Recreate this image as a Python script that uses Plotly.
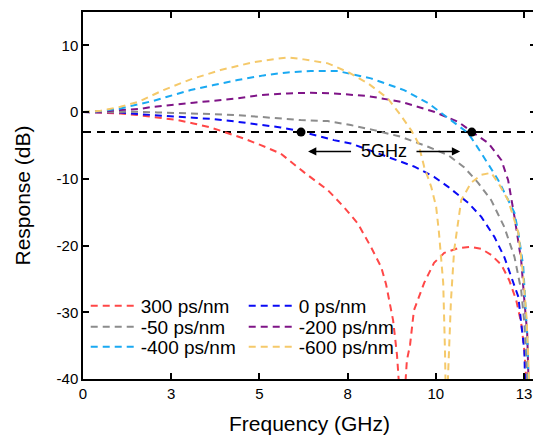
import plotly.graph_objects as go

# ---------------- data ----------------
x_tick_vals = [0, 2.5, 5, 7.5, 10, 12.5]
x_tick_text = ["0", "3", "5", "8", "10", "13"]
y_tick_vals = [-40, -30, -20, -10, 0, 10]
y_tick_text = ["-40", "-30", "-20", "-10", "0", "10"]

names = ["300 ps/nm", "0 ps/nm", "-50 ps/nm", "-200 ps/nm", "-400 ps/nm", "-600 ps/nm"]
colors = ["#FF4747", "#0A0AF5", "#8C8C8C", "#7F1487", "#1AA9F2", "#F5C96A"]

x_300 = [0, 1.06, 1.57, 2.11, 2.68, 3.13, 3.61, 3.99, 4.55, 5.04, 5.6, 6.26, 6.94, 7.39, 7.79,
         8.16, 8.45, 8.59, 8.79, 8.9, 8.95, 9.05, 9.14, 9.18, 9.27, 9.38, 9.67, 9.95, 10.24,
         10.63, 11.0, 11.29, 11.57, 11.86, 12.08, 12.28, 12.42, 12.51, 12.57]
y_300 = [0, -0.2, -0.45, -0.8, -1.2, -1.7, -2.3, -2.95, -3.95, -4.95, -6.2, -9.0, -11.7, -14.2, -16.7,
         -20.2, -23.2, -25.8, -31.2, -36.4, -40.5, -48, -40.5, -37.2, -34.9, -29.7, -25.6, -22.6, -21.1,
         -20.4, -20.2, -20.5, -21.4, -22.9, -25.2, -28.2, -31.6, -35.7, -40.5]

x_0 = [0, 1.06, 1.57, 2.11, 2.68, 3.13, 3.7, 4.38, 5.04, 5.6, 6.09, 6.54, 7.11, 7.59, 8.45,
       9.38, 9.95, 10.35, 10.92, 11.29, 11.66, 11.94, 12.14, 12.34, 12.42, 12.51, 12.53]
y_0 = [0, -0.05, -0.3, -0.45, -0.7, -0.85, -1.05, -1.45, -1.85, -2.3, -2.8, -3.45, -4.2, -4.7, -6.3,
       -8.15, -9.7, -11.2, -13.6, -15.7, -18.7, -21.7, -24.7, -27.7, -31.6, -35.7, -40.5]

x_m50 = [0, 1.06, 1.57, 2.11, 2.68, 3.13, 3.7, 4.38, 5.04, 5.6, 6.17, 6.94, 7.59, 8.25, 9.01,
         9.78, 10.35, 10.8, 11.2, 11.57, 11.94, 12.23, 12.42, 12.51, 12.57, 12.6]
y_m50 = [0, 0.05, 0.05, -0.05, -0.1, -0.2, -0.3, -0.45, -0.7, -0.95, -1.2, -1.35, -1.95, -2.7, -3.7,
         -5.2, -6.45, -8.25, -10.6, -13.2, -17.2, -21.7, -26.7, -31.6, -36.7, -40.5]

x_m200 = [0, 0.49, 1.06, 1.57, 2.0, 2.57, 3.13, 3.7, 4.38, 5.04, 5.8, 6.46, 7.11, 8.08, 9.01,
          9.95, 10.63, 11.09, 11.49, 11.86, 12.05, 12.23, 12.42, 12.51, 12.59, 12.63]
y_m200 = [0, 0.05, 0.3, 0.45, 0.8, 1.05, 1.4, 1.7, 2.05, 2.55, 2.8, 2.9, 2.8, 2.4, 1.55,
          0.05, -1.45, -3.2, -4.65, -7.2, -10.2, -15.7, -22.2, -28.2, -33.1, -40.5]

x_m400 = [0, 0.5, 1.06, 1.49, 1.97, 2.39, 3.05, 3.7, 4.38, 5.12, 5.8, 6.46, 7.22, 8.16, 9.1,
          9.78, 10.43, 10.92, 11.29, 11.77, 12.23, 12.34, 12.48, 12.54, 12.59, 12.63]
y_m400 = [0, 0.15, 0.55, 1.05, 1.65, 2.3, 3.3, 4.05, 4.8, 5.5, 5.95, 6.15, 6.15, 5.05, 3.3,
          1.35, -1.2, -3.15, -6.15, -10.2, -15.1, -18.1, -23.2, -28.2, -33.7, -40.5]

x_m600 = [0, 0.5, 1.06, 1.57, 2.28, 3.05, 3.9, 4.84, 5.8, 6.26, 6.94, 7.51, 8.08, 8.64, 8.96,
          9.3, 9.5, 9.67, 9.87, 10.01, 10.09, 10.21, 10.26, 10.3, 10.34, 10.38, 10.43, 10.52,
          10.72, 11.0, 11.29, 11.57, 11.77, 12.05, 12.34, 12.48, 12.57, 12.62, 12.64]
y_m600 = [0, 0.2, 0.8, 1.54, 3.3, 4.9, 6.3, 7.5, 8.2, 7.9, 7.3, 6.0, 4.3, 2.05, -0.15,
          -2.7, -4.6, -8.2, -11.2, -14.2, -18.1, -25.6, -35.7, -48, -40.5, -35.7, -28.2, -20.7,
          -13.2, -10.6, -9.4, -9.1, -10.6, -13.2, -18.1, -24.7, -30.7, -36.7, -40.5]

series_x = [x_300, x_0, x_m50, x_m200, x_m400, x_m600]
series_y = [y_300, y_0, y_m50, y_m200, y_m400, y_m600]
legend_rows = ["legend", "legend", "legend2", "legend2", "legend3", "legend3"]

threshold_db = -3
threshold_x = [0, 12.84]
mark_x = [6.18, 11.02]
mark_y = [-3, -3]
bw_label = "5GHz"
bw_label_pos = (8.54, -5.9)
arrow_left = (6.38, 7.64)
arrow_right = (10.69, 9.41)

x_range = [0, 12.84]
y_range = [-40, 15]

# ---------------- figure ----------------
FONT = "Liberation Sans, Arial, sans-serif"
W, H = 533, 429          # page body has an 8px margin
fig = go.Figure()

fig.add_trace(go.Scatter(x=threshold_x, y=[threshold_db, threshold_db], mode="lines",
                         line=dict(color="black", width=2, dash="8px,6px"),
                         showlegend=False, hoverinfo="skip"))

for nm, col, xs, ys, lg in zip(names, colors, series_x, series_y, legend_rows):
    fig.add_trace(go.Scatter(x=xs, y=ys, mode="lines", name=nm, legend=lg,
                             line=dict(color=col, width=2, dash="7px,5px")))

fig.add_trace(go.Scatter(x=mark_x, y=mark_y, mode="markers",
                         marker=dict(color="black", size=9), showlegend=False))

fig.add_annotation(x=bw_label_pos[0], y=bw_label_pos[1], text=bw_label, showarrow=False,
                   font=dict(size=18, color="black", family=FONT))
for head, tail in (arrow_left, arrow_right):
    fig.add_annotation(x=head, y=bw_label_pos[1], ax=tail, ay=bw_label_pos[1],
                       xref="x", yref="y", axref="x", ayref="y", text="",
                       showarrow=True, arrowhead=2, arrowsize=1.1, arrowwidth=1.5,
                       arrowcolor="black")

axis_common = dict(showline=True, linecolor="black", linewidth=1.5, mirror="ticks",
                   ticks="inside", ticklen=6, tickwidth=1.5, tickcolor="black",
                   showgrid=False, zeroline=False, automargin=False,
                   tickfont=dict(size=15, color="black", family=FONT))

fig.update_xaxes(range=x_range, tickvals=x_tick_vals, ticktext=x_tick_text,
                 title=dict(text="Frequency (GHz)", font=dict(size=21, color="black", family=FONT),
                            standoff=16),
                 **axis_common)
fig.update_yaxes(range=y_range, tickvals=y_tick_vals, ticktext=y_tick_text,
                 title=dict(text="Response (dB)", font=dict(size=21, color="black", family=FONT),
                            standoff=20),
                 **axis_common)

plot_left, plot_right, plot_top, plot_bottom = 75, 528, 4, 371
def row_y(py):
    py = py - 8
    return (plot_bottom - py) / (plot_bottom - plot_top)

leg_common = dict(orientation="h", x=0.006, xanchor="left", yanchor="middle",
                  bgcolor="rgba(0,0,0,0)", font=dict(size=19, family=FONT, color="black"),
                  entrywidth=98, itemwidth=45)

fig.update_layout(
    width=W, height=H,
    margin=dict(l=plot_left, r=W - plot_right, t=plot_top, b=H - plot_bottom),
    plot_bgcolor="white", paper_bgcolor="white",
    font=dict(family=FONT, color="black"),
    legend=dict(y=row_y(306), **leg_common),
    legend2=dict(y=row_y(327), **leg_common),
    legend3=dict(y=row_y(347), **leg_common),
)

fig.write_html("out.html")
